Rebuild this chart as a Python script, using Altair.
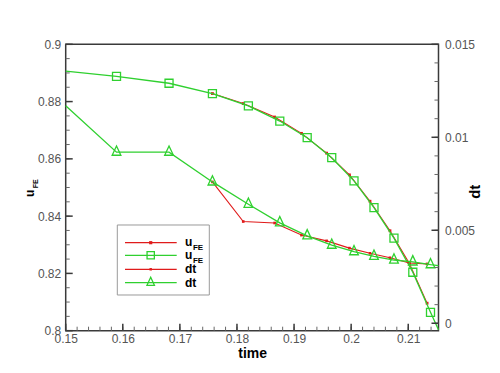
import altair as alt
import pandas as pd

# ---- data ----
time_green = [0.1500, 0.1589, 0.1681, 0.1757, 0.1820, 0.1875, 0.1923, 0.1966,
              0.2005, 0.2040, 0.2075, 0.2108, 0.2139, 0.2153]
u_green = [0.8906, 0.8888, 0.8864, 0.8828, 0.8785, 0.8732, 0.8674, 0.8604,
           0.8523, 0.8430, 0.8323, 0.8204, 0.8064, 0.8003]
dt_green = [0.0117, 0.0092, 0.0092, 0.0076, 0.0064, 0.0054, 0.0047, 0.0042,
            0.00385, 0.0036, 0.0034, 0.0033, 0.00315, 0.0031]

time_red = [0.1757, 0.1811, 0.1866, 0.1913, 0.1957, 0.1997, 0.2033, 0.2068,
            0.2102, 0.2133]
u_red = [0.8828, 0.8793, 0.8746, 0.8689, 0.8620, 0.8544, 0.8452, 0.8349,
         0.8235, 0.8096]
dt_red = [0.0076, 0.00547, 0.00539, 0.00474, 0.00443, 0.00404, 0.00376, 0.00352,
          0.00324, 0.00319]

time_ticks = [0.15, 0.16, 0.17, 0.18, 0.19, 0.20, 0.21]
u_ticks = [0.80, 0.82, 0.84, 0.86, 0.88, 0.90]
dt_ticks = [0.0, 0.005, 0.010, 0.015]
time_minor = [round(0.15 + 0.002 * i, 4) for i in range(33)]
u_minor = [round(0.80 + 0.005 * i, 4) for i in range(21)]
dt_minor = [round(0.001 * i, 4) for i in range(16)]

legend_labels = ["u", "u", "dt", "dt"]
legend_subs = ["FE", "FE", "", ""]
y_title_main = "u"
y_title_sub = "FE"

# ---- styling ----
RED = "#e01b1b"
GREEN = "#2fd02f"
FRAME = "#3a3a3a"
LABEL = "#555555"
FONT = "Liberation Sans"
W, H = 372.8, 286.4
TRI = "M0,-1.43L-1,0.71L1,0.71Z"

X = alt.Scale(domain=[0.15, 0.2153], nice=False, zero=False)
U = alt.Scale(domain=[0.8, 0.9], nice=False, zero=False)
D = alt.Scale(domain=[-0.0004, 0.015], nice=False, zero=False)

green_df = pd.DataFrame({"t": time_green, "u": u_green, "dt": dt_green})
red_df = pd.DataFrame({"t": time_red, "u": u_red, "dt": dt_red})

x_axis = alt.Axis(values=time_ticks, format=".2~f", tickSize=0, domain=False, grid=False,
                  labelPadding=3, labelFontSize=12, labelColor=LABEL, labelFont=FONT,
                  labelFlush=False, labelOverlap=False, labelBound=False,
                  title="time", titleFontSize=14, titleFontWeight="bold", titleColor="#000",
                  titleFont=FONT, titleX=W / 2, titleY=27, titleBaseline="alphabetic",
                  titleAlign="center")
u_axis = alt.Axis(orient="left", values=u_ticks, format=".2~f", tickSize=0, domain=False,
                  grid=False, labelPadding=5, labelFontSize=12, labelColor=LABEL,
                  labelFont=FONT, labelFlush=False, labelOverlap=False, labelBound=False,
                  title="")
dt_axis = alt.Axis(orient="right", values=dt_ticks, format=".3~f", tickSize=0, domain=False,
                   grid=False, labelPadding=6, labelFontSize=12, labelColor=LABEL,
                   labelFont=FONT, labelFlush=False, labelOverlap=False, labelBound=False,
                   title="dt", titleFontSize=15, titleFontWeight="bold", titleColor="#000",
                   titleFont=FONT, titleAngle=270, titleX=41.5, titleY=147,
                   titleBaseline="alphabetic", titleAlign="center")


def xe(field="t"):
    return alt.X(f"{field}:Q", scale=X, axis=x_axis)


def ye(field):
    return alt.Y(f"{field}:Q", scale=U, axis=u_axis)


def yd(field):
    return alt.Y(f"{field}:Q", scale=D, axis=dt_axis)


# ---- u_FE group (left axis) ----
red_u_line = alt.Chart(red_df).mark_line(color=RED, strokeWidth=1.1).encode(
    x=xe(), y=ye("u"), order="t:Q")
red_u_pts = alt.Chart(red_df).mark_square(color=RED, size=8, opacity=1).encode(
    x=xe(), y=ye("u"))
green_u_line = alt.Chart(green_df).mark_line(color=GREEN, strokeWidth=1.3).encode(
    x=xe(), y=ye("u"), order="t:Q")
green_u_pts = alt.Chart(green_df).transform_filter(
    (alt.datum.t > 0.1501) & (alt.datum.t < 0.2150)
).mark_point(shape="square", filled=False, size=64, strokeWidth=1.3, color=GREEN, opacity=1).encode(
    x=xe(), y=ye("u"))


def ytick_layer(vals, yfun, x0, x1, width, color):
    return alt.Chart(pd.DataFrame({"u": vals, "dt": vals})).mark_rule(
        color=color, strokeWidth=width).encode(y=yfun, x=alt.value(x0), x2=alt.value(x1))


def xtick_layer(vals, length, width, color):
    return alt.Chart(pd.DataFrame({"t": vals})).mark_rule(color=color, strokeWidth=width).encode(
        x=xe(), y=alt.value(H - length), y2=alt.value(H))


u_group = alt.layer(
    red_u_line, red_u_pts, green_u_line, green_u_pts,
    ytick_layer(u_minor, ye("u"), 0, 4, 1, "#666"),
    ytick_layer(u_ticks, ye("u"), 0, 7, 1.5, FRAME),
    xtick_layer(time_minor, 4, 1, "#666"),
    xtick_layer(time_ticks, 7, 1.5, FRAME),
)

# ---- dt group (right axis) ----
red_dt_line = alt.Chart(red_df).mark_line(color=RED, strokeWidth=1.1).encode(
    x=xe(), y=yd("dt"), order="t:Q")
red_dt_pts = alt.Chart(red_df).mark_square(color=RED, size=7, opacity=1).encode(
    x=xe(), y=yd("dt"))
green_dt_line = alt.Chart(green_df).mark_line(color=GREEN, strokeWidth=1.3).encode(
    x=xe(), y=yd("dt"), order="t:Q")
green_dt_pts = alt.Chart(green_df).transform_filter(
    (alt.datum.t > 0.1501) & (alt.datum.t < 0.2150)
).mark_point(shape=TRI, filled=False, size=76, strokeWidth=1.3, color=GREEN, opacity=1).encode(
    x=xe(), y=yd("dt"))

dt_group = alt.layer(
    red_dt_line, red_dt_pts, green_dt_line, green_dt_pts,
    ytick_layer(dt_minor, yd("dt"), W - 4, W, 1, "#666"),
    ytick_layer(dt_ticks, yd("dt"), W - 7, W, 1.5, FRAME),
)

# ---- legend and subscripted title ----
one = alt.Data(values=[{}])


def txt(text, x, y, size, angle=0, align="left"):
    return alt.Chart(one).mark_text(text=text, font=FONT, fontSize=size, fontWeight="bold",
                                    color="#000", angle=angle, align=align,
                                    baseline="alphabetic").encode(x=alt.value(x), y=alt.value(y))


extra = [
    alt.Chart(one).mark_rect(fill="white", stroke="#9a9a9a", strokeWidth=1).encode(
        x=alt.value(51.6), x2=alt.value(143.6), y=alt.value(180.7), y2=alt.value(250.7)),
]
row_y = [198.4, 211.0, 225.0, 238.4]
row_color = [RED, GREEN, RED, GREEN]
row_base = [201.7, 215.0, 229.0, 242.4]
for i in range(4):
    extra.append(alt.Chart(one).mark_rule(color=row_color[i], strokeWidth=1.3).encode(
        x=alt.value(59.3), x2=alt.value(111), y=alt.value(row_y[i])))
extra.append(alt.Chart(one).mark_square(color=RED, size=10, opacity=1).encode(
    x=alt.value(85), y=alt.value(row_y[0])))
extra.append(alt.Chart(one).mark_point(shape="square", filled=False, size=53, strokeWidth=1.3,
                                       color=GREEN, opacity=1).encode(
    x=alt.value(85), y=alt.value(row_y[1])))
extra.append(alt.Chart(one).mark_square(color=RED, size=6, opacity=1).encode(
    x=alt.value(85), y=alt.value(row_y[2])))
extra.append(alt.Chart(one).mark_point(shape=TRI, filled=False, size=56, strokeWidth=1.3,
                                       color=GREEN, opacity=1).encode(
    x=alt.value(85), y=alt.value(row_y[3])))
for i in range(4):
    extra.append(txt(legend_labels[i], 119.3, row_base[i], 12))
    if legend_subs[i]:
        extra.append(txt(legend_subs[i], 127.2, row_base[i] + 3.6, 8))

extra.append(txt(y_title_main, -31.4, 149, 12, angle=270, align="center"))
extra.append(txt(y_title_sub, -28.0, 139.5, 7, angle=270, align="center"))

chart = alt.layer(u_group, dt_group, *extra).resolve_scale(y="independent").properties(
    width=W, height=H,
    padding={"left": 57.7, "top": 36.3, "right": 45, "bottom": 30},
    autosize=alt.AutoSizeParams(type="none"),
).configure(font=FONT, background="white").configure_view(stroke=FRAME, strokeWidth=1.5)

chart.save("out.html", embed_options={"renderer": "svg", "actions": False})
